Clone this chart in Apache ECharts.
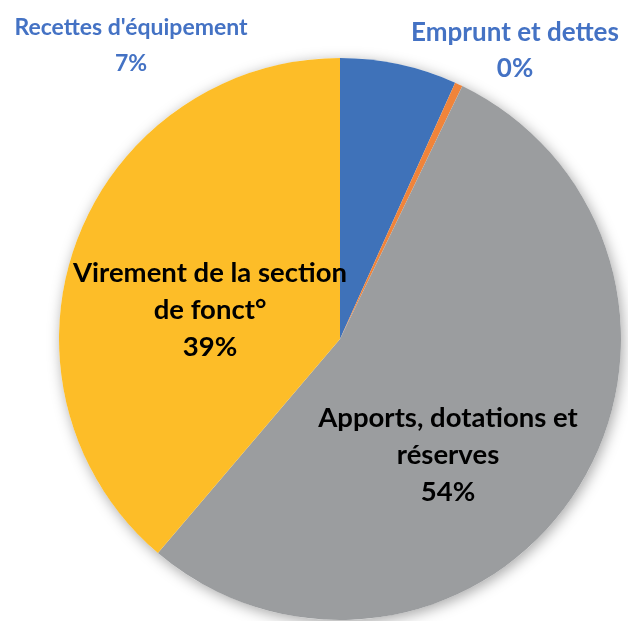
<!DOCTYPE html>
<html><head><meta charset="utf-8">
<script src="https://cdn.jsdelivr.net/npm/echarts@6/dist/echarts.min.js"></script>
<style>html,body{margin:0;padding:0;background:#fff}#c{width:628px;height:621px}</style>
</head><body><div id="c"></div>
<script>
const categories = ["Recettes d'équipement", "Emprunt et dettes", "Apports, dotations et\nréserves", "Virement de la section\nde fonct°"];
const values = [6.72, 0.45, 54.05, 38.78];
const colors = ['#3F72B9', '#F0843A', '#9B9D9F', '#FDBD28'];

const labelConf = [
  {x: 131, y: 46, color: '#4472C4', size: 23, lh: 36},
  {x: 515, y: 51, color: '#4472C4', size: 26, lh: 36},
  {x: 448, y: 455, color: '#000', size: 27.5, lh: 37},
  {x: 210, y: 310, color: '#000', size: 27.5, lh: 37}
];

const chart = echarts.init(document.getElementById('c'));
const data = categories.map((n, i) => ({
  name: n, value: values[i],
  itemStyle: {color: colors[i]},
  label: {color: labelConf[i].color, fontSize: labelConf[i].size, lineHeight: labelConf[i].lh}
}));
chart.setOption({
  animation: false,
  series: [
    {
      type: 'pie', silent: true, center: [340, 339], radius: 281,
      label: {show: false}, labelLine: {show: false},
      data: [{value: 1, itemStyle: {color: '#fff', shadowBlur: 14, shadowColor: 'rgba(0,0,0,0.35)', shadowOffsetX: 2, shadowOffsetY: 3}}]
    },
    {
      type: 'pie', center: [340, 339], radius: 281, startAngle: 90, clockwise: true,
      itemStyle: {borderWidth: 0},
      label: {
        show: true, position: 'inside', fontFamily: 'Lato', fontWeight: 'bold', align: 'center',
        formatter: p => p.name + '\n' + Math.round(p.value) + '%'
      },
      labelLine: {show: false},
      labelLayout: p => ({x: labelConf[p.dataIndex].x, y: labelConf[p.dataIndex].y, align: 'center', verticalAlign: 'middle'}),
      data: data
    }
  ]
});
</script></body></html>
